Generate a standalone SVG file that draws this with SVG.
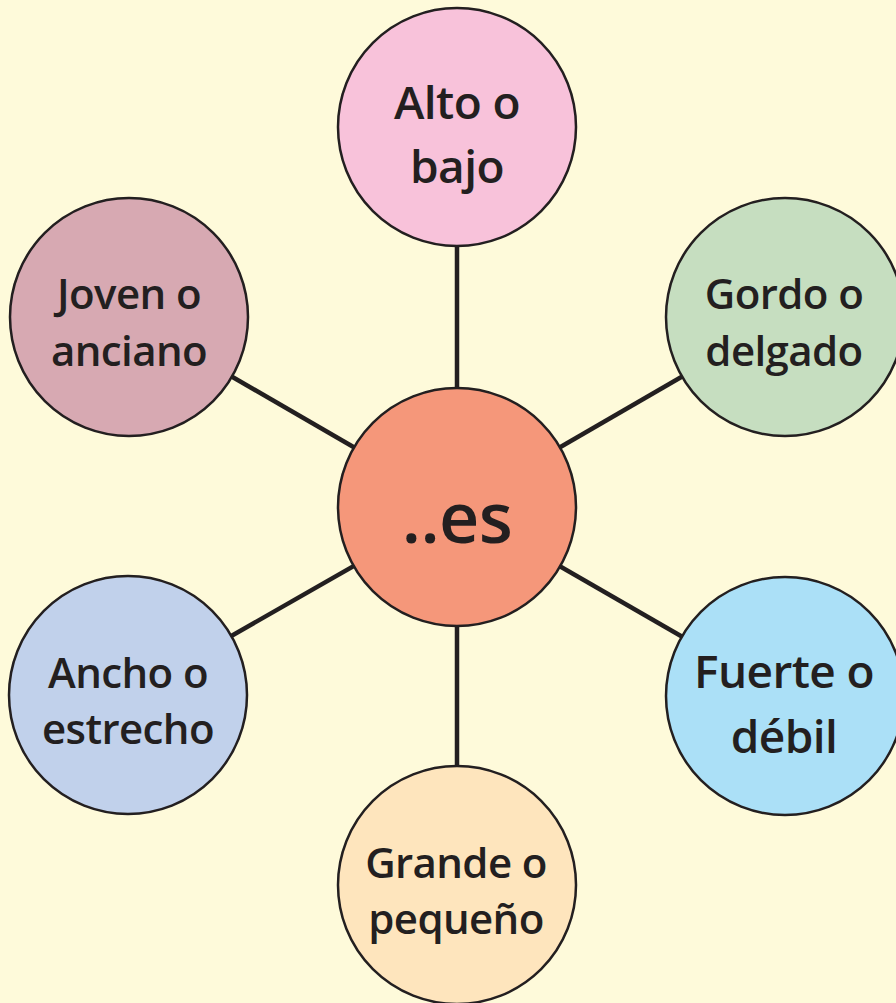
<svg xmlns="http://www.w3.org/2000/svg" width="896" height="1003" viewBox="0 0 896 1003">
<style>
.node{stroke:#231F20;stroke-width:2.5}
.lbl{font-family:"Open Sans","Liberation Sans",sans-serif;font-weight:600;fill:#231F20;text-anchor:middle;font-size:42px;letter-spacing:-0.6px}
.big{font-size:46px}
.conn line{stroke:#231F20;stroke-width:4.5}
</style>
<rect x="0" y="0" width="896" height="1003" fill="#FEFADA"/>
<g id="connectors" class="conn">
<line x1="457" y1="246" x2="457" y2="388"/>
<line x1="457" y1="626" x2="457" y2="767"/>
<line x1="457" y1="507" x2="129" y2="317"/>
<line x1="457" y1="507" x2="785" y2="317"/>
<line x1="457" y1="507" x2="128" y2="695"/>
<line x1="457" y1="507" x2="785" y2="696"/>
</g>
<g id="node-center">
<circle class="node" cx="457" cy="507" r="119" fill="#F5977A"/>
<text class="lbl" x="457" y="543" style="font-size:70px">..es</text>
</g>
<g id="node-alto">
<circle class="node" cx="457" cy="127" r="119" fill="#F8C2DA"/>
<text class="lbl big" x="457" y="119">Alto o</text>
<text class="lbl big" x="457" y="183">bajo</text>
</g>
<g id="node-joven">
<circle class="node" cx="129" cy="317" r="119" fill="#D7A9B2"/>
<text class="lbl" x="129" y="309">Joven o</text>
<text class="lbl" x="129" y="366">anciano</text>
</g>
<g id="node-gordo">
<circle class="node" cx="785" cy="317" r="119" fill="#C6DEC0"/>
<text class="lbl" x="784" y="309">Gordo o</text>
<text class="lbl" x="784" y="366">delgado</text>
</g>
<g id="node-ancho">
<circle class="node" cx="128" cy="695" r="119" fill="#C1D1EB"/>
<text class="lbl" x="128" y="688">Ancho o</text>
<text class="lbl" x="128" y="744">estrecho</text>
</g>
<g id="node-fuerte">
<circle class="node" cx="785" cy="696" r="119" fill="#ABE0F7"/>
<text class="lbl big" x="784" y="688">Fuerte o</text>
<text class="lbl big" x="784" y="753">débil</text>
</g>
<g id="node-grande">
<circle class="node" cx="457" cy="885" r="119" fill="#FEE5BD"/>
<text class="lbl" x="456" y="878">Grande o</text>
<text class="lbl" x="456" y="934">pequeño</text>
</g>
</svg>
